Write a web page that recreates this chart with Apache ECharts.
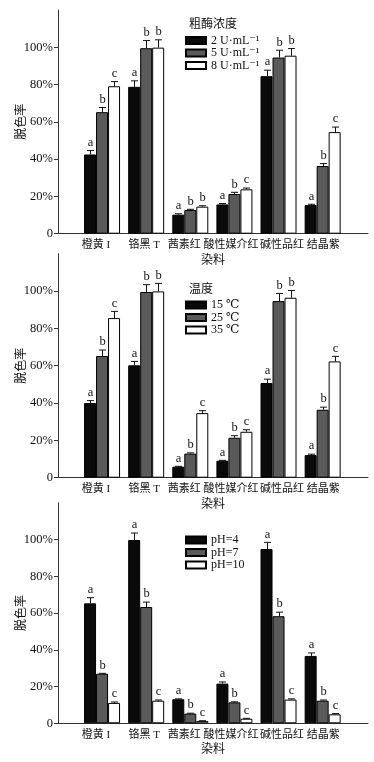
<!DOCTYPE html>
<html><head><meta charset="utf-8">
<script src="https://cdn.jsdelivr.net/npm/echarts@6/dist/echarts.min.js"></script>
<style>html,body{margin:0;padding:0;background:#fff}#c{width:374px;height:762px}</style>
</head><body><div id="c"></div>
<script>
// ---------- data ----------
const categories = ['橙黄 I', '铬黑 T', '茜素红', '酸性媒介红', '碱性品红', '结晶紫'];
const yTicks = [0, 20, 40, 60, 80, 100];

// Panel 1: crude enzyme concentration
const p1Title = '粗酶浓度';
const p1Names = ['2 U·mL⁻¹', '5 U·mL⁻¹', '8 U·mL⁻¹'];
const p1Low  = [42.5, 78.8, 10.2, 15.7, 84.5, 15.4];
const p1Mid  = [65.2, 99.5, 12.7, 21.3, 94.5, 36.3];
const p1High = [79.1, 99.8, 14.5, 23.8, 95.5, 54.5];
const p1LowErr  = [2.1, 3.2, 0.5, 0.5, 3.2, 0.4];
const p1MidErr  = [2.5, 4.1, 0.4, 0.9, 3.9, 1.3];
const p1HighErr = [2.5, 4.2, 0.5, 0.7, 3.8, 2.7];
const p1LowSig  = ['a', 'a', 'a', 'a', 'a', 'a'];
const p1MidSig  = ['b', 'b', 'b', 'b', 'b', 'b'];
const p1HighSig = ['c', 'b', 'b', 'c', 'b', 'c'];

// Panel 2: temperature
const p2Title = '温度';
const p2Names = ['15 ℃', '25 ℃', '35 ℃'];
const p2Low  = [40.0, 60.2, 5.9, 9.1, 50.7, 12.1];
const p2Mid  = [65.2, 99.5, 12.9, 21.4, 94.6, 36.4];
const p2High = [85.5, 99.8, 34.6, 24.6, 96.4, 62.3];
const p2LowErr  = [1.3, 2.1, 0.2, 0.2, 2.1, 0.5];
const p2MidErr  = [3.2, 3.9, 0.4, 1.1, 4.1, 1.4];
const p2HighErr = [3.6, 4.3, 1.3, 1.1, 3.9, 2.7];
const p2LowSig  = ['a', 'a', 'a', 'a', 'a', 'a'];
const p2MidSig  = ['b', 'b', 'b', 'b', 'b', 'b'];
const p2HighSig = ['c', 'b', 'c', 'c', 'b', 'c'];

// Panel 3: pH
const p3Names = ['pH=4', 'pH=7', 'pH=10'];
const p3Low  = [65.3, 99.8, 13.1, 21.6, 94.9, 36.7];
const p3Mid  = [27.0, 63.3, 5.3, 11.4, 58.3, 12.3];
const p3High = [11.1, 12.3, 1.3, 2.5, 12.9, 4.9];
const p3LowErr  = [3.1, 3.8, 0.2, 0.9, 3.6, 1.6];
const p3MidErr  = [0.2, 2.7, 0.2, 0.3, 2.2, 0.4];
const p3HighErr = [0.5, 0.4, 0.1, 0.2, 0.4, 0.4];
const p3LowSig  = ['a', 'a', 'a', 'a', 'a', 'a'];
const p3MidSig  = ['b', 'b', 'b', 'b', 'b', 'b'];
const p3HighSig = ['c', 'c', 'c', 'c', 'c', 'c'];

const yName = '脱色率';
const xName = '染料';

// ---------- style ----------
const SERIF = "'Liberation Serif','DejaVu Serif',serif";
const CJK = "'Liberation Serif','Noto Sans CJK SC',serif";
const colors = ['#0a0a0a', '#5a5a5a', '#ffffff'];
const BAR_W = 12;
const AX = '#333';
// horizontal nudge (px) of each category label, as typeset in the original
const labelNudge = [-6, -2, -6, -3.5, 3.5, 0.5];
const labelRich = {};
labelNudge.forEach((n, i) => {
  labelRich['s' + i] = { fontFamily: CJK, fontSize: 11, color: '#111',
    padding: n < 0 ? [0, -2 * n, 0, 0] : [0, 0, 0, 2 * n] };
});

const panels = [
  { top: 10,    bottom: 762 - 233.7, title: p1Title, names: p1Names,
    vals: [p1Low, p1Mid, p1High], errs: [p1LowErr, p1MidErr, p1HighErr], sigs: [p1LowSig, p1MidSig, p1HighSig],
    legendTop: 29.5, titleTop: 14 },
  { top: 253.7, bottom: 762 - 477.7, title: p2Title, names: p2Names,
    vals: [p2Low, p2Mid, p2High], errs: [p2LowErr, p2MidErr, p2HighErr], sigs: [p2LowSig, p2MidSig, p2HighSig],
    legendTop: 294, titleTop: 279 },
  { top: 502.9, bottom: 762 - 723.3, title: null, names: p3Names,
    vals: [p3Low, p3Mid, p3High], errs: [p3LowErr, p3MidErr, p3HighErr], sigs: [p3LowSig, p3MidSig, p3HighSig],
    legendTop: 529, titleTop: 0 }
];

const grid = [], xAxis = [], yAxis = [], series = [], legend = [], title = [];

panels.forEach((p, pi) => {
  const outer = pi * 2, inner = pi * 2 + 1;
  grid.push({ left: 58, right: 6, top: p.top, bottom: p.bottom });
  grid.push({ left: 80, right: 29.3, top: p.top, bottom: p.bottom });
  xAxis.push({
    type: 'value', gridIndex: outer, min: 0, max: 1,
    axisLine: { show: true, lineStyle: { color: AX, width: 1 } },
    axisTick: { show: false }, axisLabel: { show: false }, splitLine: { show: false },
    name: xName, nameLocation: 'middle', nameGap: 21, nameMoveOverlap: false,
    nameTextStyle: { fontFamily: CJK, fontSize: 12, color: '#111' }
  });
  xAxis.push({
    type: 'category', gridIndex: inner, data: categories,
    axisLine: { show: false }, axisTick: { show: false },
    axisLabel: { interval: 0, margin: 6, fontFamily: CJK, fontSize: 11, color: '#111',
      formatter: (v, i) => '{s' + i + '|' + v + '}', rich: labelRich }
  });
  yAxis.push({
    type: 'value', gridIndex: outer, min: 0, max: 120,
    axisLine: { show: true, lineStyle: { color: AX, width: 1 } },
    axisTick: { show: true, length: 4, lineStyle: { color: AX }, customValues: yTicks },
    axisLabel: { margin: 5, fontFamily: SERIF, fontSize: 12.5, color: '#111', customValues: yTicks,
      formatter: v => v === 0 ? '0' : v + '%' },
    splitLine: { show: false },
    name: yName, nameLocation: 'middle', nameGap: 30, nameMoveOverlap: false,
    nameTextStyle: { fontFamily: CJK, fontSize: 12, color: '#111' }
  });
  yAxis.push({ type: 'value', gridIndex: inner, min: 0, max: 120, show: false });

  p.names.forEach((nm, k) => {
    series.push({
      type: 'bar', name: nm, xAxisIndex: inner, yAxisIndex: inner,
      data: p.vals[k], barWidth: BAR_W, barGap: '0%',
      itemStyle: { color: colors[k], borderColor: '#000', borderWidth: 1 },
      z: 2
    });
    const errData = p.vals[k].map((v, i) => [i, v, p.errs[k][i], p.sigs[k][i]]);
    const offset = (k - 1) * BAR_W;
    series.push({
      type: 'custom', xAxisIndex: inner, yAxisIndex: inner, data: errData, z: 3,
      renderItem: (params, api) => {
        const base = api.coord([api.value(0), api.value(1)]);
        const tip = api.coord([api.value(0), api.value(1) + api.value(2)]);
        const x = Math.round(base[0] + offset) + 0.5;
        const sig = errData[params.dataIndex][3];
        return {
          type: 'group', children: [
            { type: 'line', shape: { x1: x, y1: base[1], x2: x, y2: tip[1] }, style: { stroke: '#111', lineWidth: 1 } },
            { type: 'line', shape: { x1: x - 3.5, y1: tip[1], x2: x + 3.5, y2: tip[1] }, style: { stroke: '#111', lineWidth: 1 } },
            { type: 'text', style: { text: sig, x: x, y: tip[1] - 1.5, align: 'center', verticalAlign: 'bottom',
              fontFamily: SERIF, fontSize: 12.5, fill: '#111' } }
          ]
        };
      }
    });
  });

  legend.push({
    data: p.names, orient: 'vertical', left: 180, top: p.legendTop,
    itemWidth: 20, itemHeight: 7, itemGap: 0.5, icon: 'rect',
    textStyle: { fontFamily: SERIF, fontSize: 12, color: '#111', lineHeight: 11 },
    selectedMode: false
  });
  if (p.title) {
    title.push({ text: p.title, left: 184, top: p.titleTop,
      textStyle: { fontFamily: CJK, fontSize: 12, fontWeight: 'normal', color: '#111' } });
  }
});

const chart = echarts.init(document.getElementById('c'), null, { renderer: 'canvas' });
chart.setOption({ animation: false, backgroundColor: '#fff', title, legend, grid, xAxis, yAxis, series });
</script>
</body></html>
